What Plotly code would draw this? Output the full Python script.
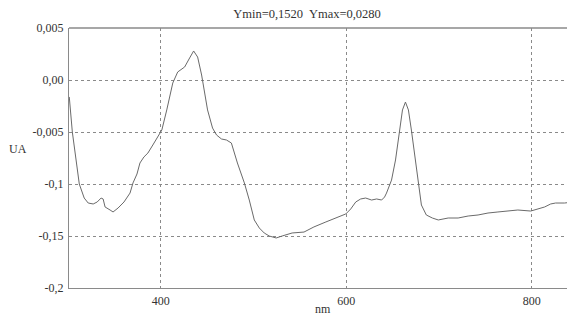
import plotly.graph_objects as go

wavelength_nm = [301.3, 304.6, 312.1, 317.4, 321.7, 327.1, 331.4, 335.6, 337.8, 339.9, 345.3, 348.5,
                 353.9, 360.3, 366.8, 370.0, 374.3, 377.5, 381.8, 386.1, 391.4, 395.7, 401.1, 406.4,
                 412.9, 418.2, 422.5, 425.7, 431.1, 435.4, 439.7, 444.0, 450.4, 455.8, 460.1, 465.4,
                 470.8, 476.1, 482.6, 490.1, 495.4, 500.8, 506.2, 511.5, 516.9, 524.4, 530.8, 541.6,
                 554.4, 565.1, 578.0, 588.7, 599.5, 604.8, 610.2, 615.5, 620.9, 627.3, 632.7, 638.1,
                 641.3, 643.4, 648.8, 653.1, 657.4, 660.6, 663.8, 667.0, 670.2, 674.5, 677.7, 681.0,
                 686.3, 692.8, 699.2, 709.9, 720.6, 731.4, 742.1, 752.8, 763.5, 774.3, 785.0, 798.9,
                 806.4, 813.9, 820.4, 825.7, 835.4, 838.0]
absorbance = [-0.0163, -0.050, -0.100, -0.1135, -0.1183, -0.1192, -0.1173, -0.1135, -0.1144, -0.1221,
              -0.1250, -0.1269, -0.1231, -0.1173, -0.1087, -0.0990, -0.0904, -0.0798, -0.0740, -0.0702,
              -0.0625, -0.0558, -0.0481, -0.0288, -0.0029, 0.0077, 0.0106, 0.0125, 0.0212, 0.0279,
              0.0221, 0.0048, -0.0288, -0.0462, -0.0529, -0.0567, -0.0577, -0.0606, -0.0798, -0.0990,
              -0.1154, -0.1346, -0.1423, -0.1471, -0.1500, -0.1519, -0.1500, -0.1471, -0.1462, -0.1413,
              -0.1365, -0.1327, -0.1288, -0.1240, -0.1173, -0.1144, -0.1135, -0.1154, -0.1144, -0.1154,
              -0.1125, -0.1087, -0.0962, -0.0769, -0.0481, -0.0288, -0.0212, -0.0288, -0.0481, -0.0769,
              -0.1029, -0.1202, -0.1298, -0.1327, -0.1346, -0.1327, -0.1327, -0.1308, -0.1298, -0.1279,
              -0.1269, -0.1260, -0.1250, -0.1260, -0.1240, -0.1221, -0.1192, -0.1183, -0.1183, -0.1180]

x_tick_vals = [400, 600, 800]
x_tick_text = ["400", "600", "800"]
y_tick_vals = [0.05, 0.0, -0.05, -0.10, -0.15, -0.20]
y_tick_text = ["0,005", "0,00", "-0,005", "-0,1", "-0,15", "-0,2"]
title_text = "Ymin=0,1520  Ymax=0,0280"

font_family = "Liberation Serif, Times New Roman, serif"
text_color = "#333333"
axis_color = "#8a8a8a"

fig = go.Figure()
fig.add_trace(go.Scatter(x=wavelength_nm, y=absorbance, mode="lines",
                         line=dict(color="#6a6a6a", width=1), showlegend=False))

fig.update_layout(
    width=567, height=319,
    margin=dict(l=69, r=0, t=28, b=31, autoexpand=False),
    paper_bgcolor="white", plot_bgcolor="white",
    font=dict(family=font_family, size=12, color=text_color),
    title=dict(text=title_text, x=0.478, xref="paper", xanchor="center",
               y=1 - 14 / 319, yref="container", yanchor="middle",
               font=dict(family=font_family, size=12.5, color=text_color)),
)
fig.update_xaxes(range=[301, 838], tickvals=x_tick_vals, ticktext=x_tick_text,
                 showgrid=True, gridcolor=axis_color, griddash="dot", gridwidth=1,
                 showline=True, linecolor=axis_color, linewidth=1,
                 ticks="", zeroline=False, automargin=False, ticklabelstandoff=2)
fig.update_yaxes(range=[-0.2, 0.05], tickvals=y_tick_vals, ticktext=y_tick_text,
                 showgrid=True, gridcolor=axis_color, griddash="dot", gridwidth=1,
                 showline=True, linecolor=axis_color, linewidth=1,
                 ticks="", zeroline=False, automargin=False, ticklabelstandoff=2)
# top border line
fig.add_shape(type="line", xref="paper", yref="paper", x0=0, x1=1, y0=1, y1=1,
              line=dict(color=axis_color, width=1.5))
fig.add_annotation(text="UA", xref="paper", yref="paper", x=-0.080, y=0.535,
                   xanchor="right", yanchor="middle", showarrow=False,
                   font=dict(family=font_family, size=12, color=text_color))
fig.add_annotation(text="nm", xref="paper", yref="paper", x=0.51, y=-0.08,
                   xanchor="center", yanchor="middle", showarrow=False,
                   font=dict(family=font_family, size=12, color=text_color))

fig.write_html("out.html", config={"displayModeBar": False},
               post_script="document.body.style.margin='0';document.body.style.overflow='hidden';")
